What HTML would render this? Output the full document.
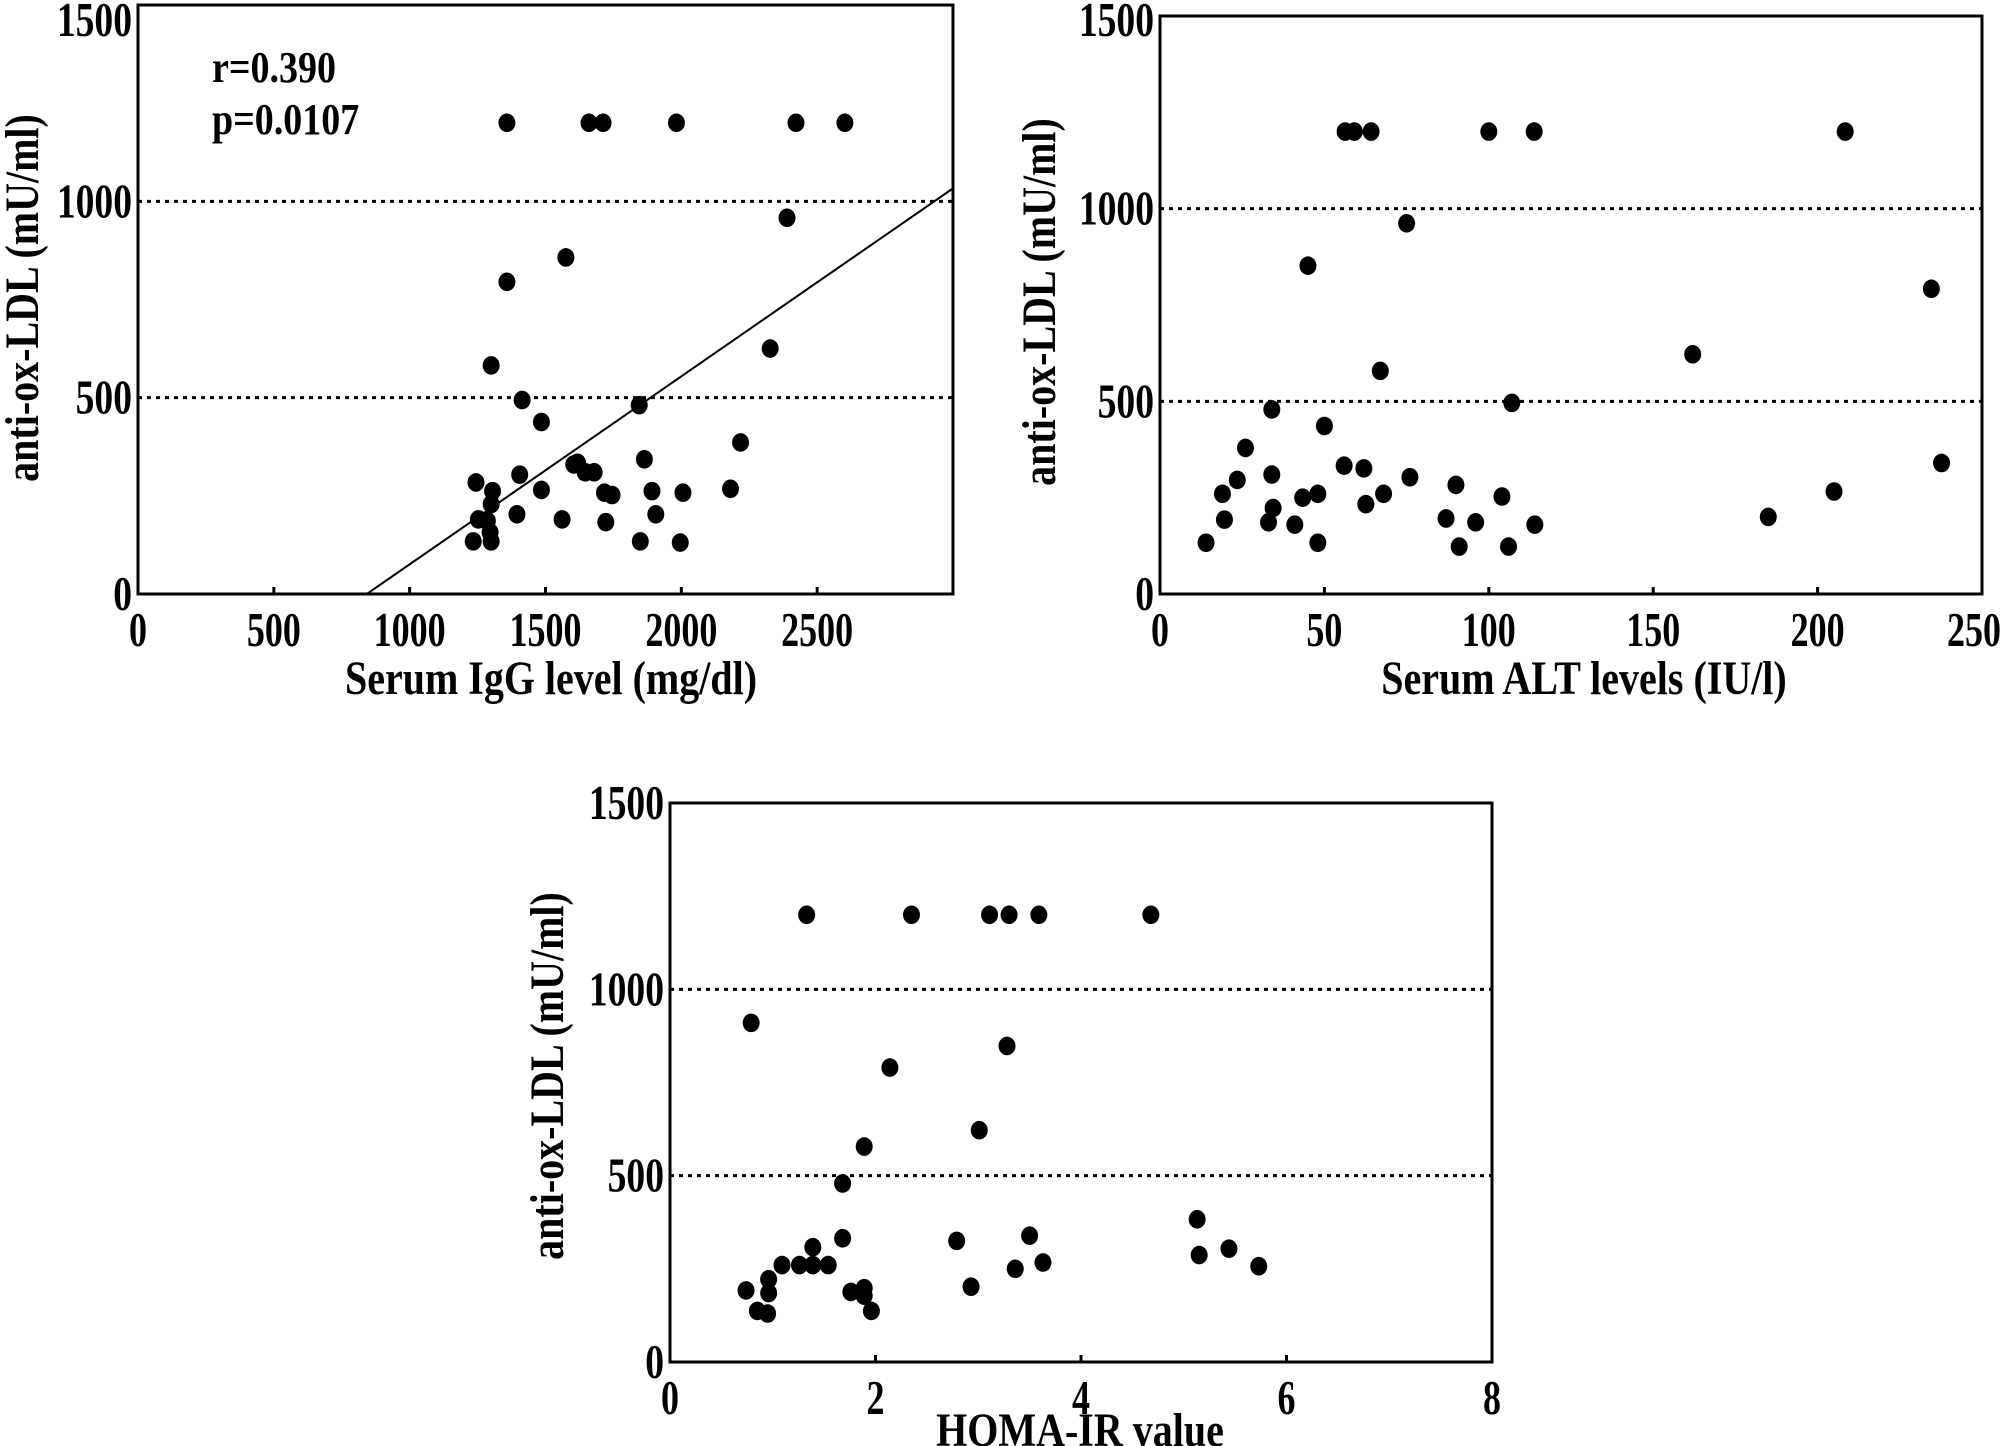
<!DOCTYPE html>
<html><head><meta charset="utf-8"><style>
html,body{margin:0;padding:0;background:#fff;}
svg{display:block;}
text{font-family:"Liberation Serif",serif;font-weight:bold;fill:#000;}
</style></head><body>
<svg id="fig" width="2008" height="1446" viewBox="0 0 2008 1446" xmlns="http://www.w3.org/2000/svg"></svg>
<script>
// Panel A: IgG
const igX = [1358,1660,1712,1982,2422,2602,2389,1575,1358,1300,1414,1485,1845,2218,2327,1604,1618,1646,1679,1864,1405,1244,1305,1300,1253,1286,1296,1234,1300,1485,1717,1745,1892,2006,2181,1395,1561,1722,1906,1849,1996];
const igY = [1200,1200,1200,1200,1200,1200,958,857,795,582,494,438,481,386,625,330,334,310,310,343,304,284,262,229,190,186,157,134,134,265,258,252,262,258,268,203,190,183,203,134,131];
const igTicks = [0,500,1000,1500,2000,2500];
const fitLine = [842,0,3000,1033];
// Panel B: ALT
const altX = [56.3,59.1,64.2,100,113.8,208.4,75,45,234.6,162,67,107,34,50,26,56,62,237.7,23.5,19,34,76,43.4,48,68,205,62.6,90,104,34.4,19.6,33,41,87,96,114,185,14,48,91,106];
const altY = [1200,1200,1200,1200,1200,1200,962,852,792,622,579,496,479,436,379,333,326,340,296,260,310,303,250,260,260,266,233,283,253,223,193,186,180,196,186,180,200,133,133,123,123];
const altTicks = [0,50,100,150,200,250];
// Panel C: HOMA-IR
const homaX = [1.33,2.35,3.11,3.3,3.59,4.68,0.79,3.28,2.14,3.01,1.89,1.68,1.68,2.79,3.5,5.13,5.15,5.44,5.73,3.63,3.36,1.39,1.09,1.26,1.39,1.54,0.96,0.74,0.96,1.76,1.89,1.89,2.93,0.85,0.95,1.96];
const homaY = [1200,1200,1200,1200,1200,1200,910,848,790,622,578,479,332,325,339,383,287,304,257,267,250,308,260,260,260,260,222,192,185,188,198,178,202,137,130,137];
const homaTicks = [0,2,4,6,8];
const yTicks = [0,500,1000,1500];
const refLines = [500,1000];

const NS="http://www.w3.org/2000/svg";
const svg=document.getElementById('fig');
function mk(tag,attrs,parent){const e=document.createElementNS(NS,tag);for(const k in attrs)e.setAttribute(k,attrs[k]);(parent||svg).appendChild(e);return e;}
function txt(parent,x,y,s,anchor,size,rot,sx,sy){
  const t=mk('text',{x:0,y:0,'text-anchor':anchor,'font-size':size,transform:`translate(${x},${y})${rot?' rotate(-90)':''} scale(${sx},${sy})`},parent);
  t.textContent=s;return t;
}

function panel(cfg){
  const g=mk('g',{});
  
  
  const sx=v=>cfg.L+(v-cfg.xmin)/(cfg.xmax-cfg.xmin)*(cfg.R-cfg.L);
  const sy=v=>cfg.B-(v-0)/(1500)*(cfg.B-cfg.T);
  refLines.forEach(v=>{
    const l=mk('line',{x1:cfg.L,x2:cfg.R,y1:sy(v),y2:sy(v),stroke:'#000','stroke-width':3,'stroke-dasharray':'4,5'},g);
    
    
  });
  const fr=mk('rect',{x:cfg.L,y:cfg.T,width:cfg.R-cfg.L,height:cfg.B-cfg.T,fill:'none',stroke:'#000','stroke-width':3},g);
  
  
  cfg.xt.forEach(v=>{
    const x=sx(v);
    const t=mk('line',{x1:x,x2:x,y1:cfg.B,y2:cfg.B-7,stroke:'#000','stroke-width':3},g);
    
    
    const tx=txt(g,Math.min(x,2008-34),cfg.B+52,String(v),'middle',40,false,0.9,1.22);
    
    
  });
  yTicks.forEach(v=>{
    const y=sy(v);
    const tx=txt(g,cfg.L-6,Math.max(y+16,36),String(v),'end',40,false,0.94,1.22);
    
    
  });
  if(cfg.fit){
    const fl=mk('line',{x1:sx(cfg.fit[0]),y1:sy(cfg.fit[1]),x2:sx(cfg.fit[2]),y2:sy(cfg.fit[3]),stroke:'#000','stroke-width':2},g);
    
    
  }
  cfg.xs.forEach((v,i)=>{
    const p=mk('ellipse',{cx:sx(v),cy:sy(cfg.ys[i]),rx:8.5,ry:9.3,fill:'#000'},g);
    
    
  });
  const xt=txt(g,cfg.xtX,cfg.xtY,cfg.xtitle,'middle',40,false,1,1.18);
  
  
  const yt=txt(g,cfg.ytX,cfg.ytY,'anti-ox-LDL (mU/ml)','middle',40,true,1,1.18);
  
  
  return g;
}

const gA=panel({name:'igg-panel',L:138,R:953,T:5,B:594,xmin:0,xmax:3000,xt:igTicks,xs:igX,ys:igY,fit:fitLine,xtitle:'Serum IgG level (mg/dl)',xtX:551,xtY:694,ytX:38,ytY:298});
const a1=txt(gA,212,82,'r=0.390','start',38,false,1,1.18);


const a2=txt(gA,212,134,'p=0.0107','start',38,false,1,1.18);


panel({name:'alt-panel',L:1160,R:1982,T:16,B:594,xmin:0,xmax:250,xt:altTicks,xs:altX,ys:altY,xtitle:'Serum ALT levels (IU/l)',xtX:1584,xtY:694,ytX:1055,ytY:302});
panel({name:'homa-panel',L:670,R:1492,T:803,B:1362,xmin:0,xmax:8,xt:homaTicks,xs:homaX,ys:homaY,xtitle:'HOMA-IR value',xtX:1080,xtY:1446,ytX:563,ytY:1076});
</script>
</body></html>
